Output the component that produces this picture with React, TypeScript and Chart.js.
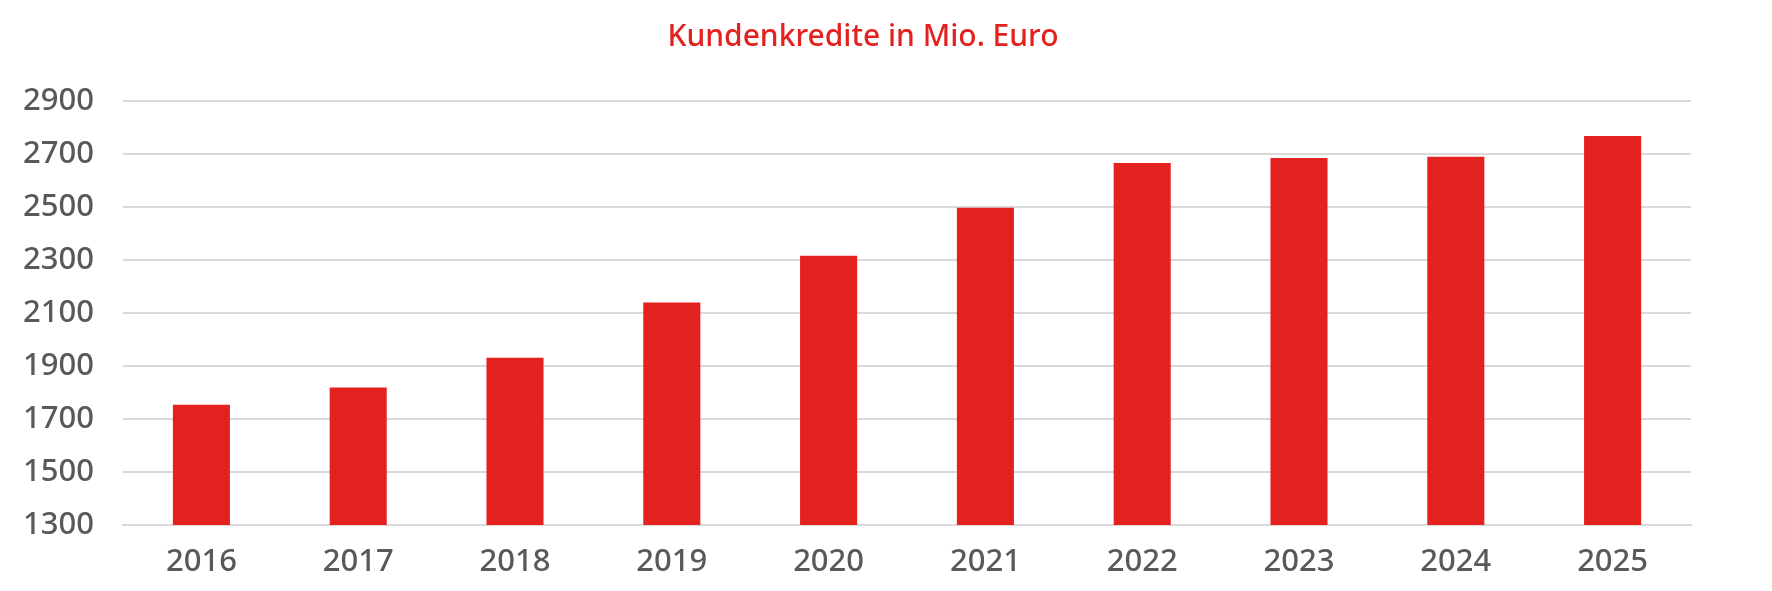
import { useEffect, useRef } from "react";
import { Chart, registerables } from "chart.js";

Chart.register(...registerables);

const years = ["2016", "2017", "2018", "2019", "2020", "2021", "2022", "2023", "2024", "2025"];
const credits = [1754, 1819, 1931, 2140, 2316, 2497, 2666, 2685, 2690, 2768];
const yMin = 1300;
const yMax = 2900;
const yStep = 200;
const chartTitle = "Kundenkredite in Mio. Euro";

const RED = "#e3221f";
const GREY_TEXT = "#595959";
const GRID = "#d9d9d9";
const FONT = "'Noto Sans', 'Open Sans', sans-serif";

const titlePlugin = {
  id: "sideTitle",
  afterDraw(chart: Chart) {
    const { ctx } = chart;
    ctx.save();
    ctx.font = `500 30px ${FONT}`;
    ctx.fillStyle = RED;
    ctx.textAlign = "center";
    ctx.textBaseline = "middle";
    ctx.fillText(chartTitle, 863, 37);
    ctx.restore();
  },
};

const App = () => {
  const canvasRef = useRef<HTMLCanvasElement>(null);

  useEffect(() => {
    if (!canvasRef.current) return;
    const chart = new Chart(canvasRef.current, {
      type: "bar",
      data: {
        labels: years,
        datasets: [
          {
            data: credits,
            backgroundColor: RED,
            borderWidth: 0,
            barPercentage: 0.364,
            categoryPercentage: 1,
          },
        ],
      },
      options: {
        animation: false,
        responsive: true,
        maintainAspectRatio: false,
        layout: { padding: { top: 101, right: 81, left: 0, bottom: 0 } },
        plugins: {
          legend: { display: false },
          title: { display: false },
          tooltip: { enabled: false },
        },
        scales: {
          x: {
            grid: { display: false, drawTicks: false },
            border: { display: true, color: GRID, width: 2 },
            ticks: { color: GREY_TEXT, font: { family: FONT, size: 31, weight: 500 }, padding: 19 },
            afterFit(scale) {
              scale.height = 66;
            },
          },
          y: {
            min: yMin,
            max: yMax,
            grid: { color: GRID, lineWidth: 2, drawTicks: false },
            border: { display: false },
            ticks: {
              stepSize: yStep,
              color: GREY_TEXT,
              font: { family: FONT, size: 31, weight: 500 },
              padding: 29,
              callback: (value) => String(value),
            },
            afterFit(scale) {
              scale.width = 123;
            },
          },
        },
      },
      plugins: [titlePlugin],
    });
    return () => chart.destroy();
  }, []);

  return (
    <div style={{ position: "fixed", left: 0, top: 0, width: 1772, height: 591, background: "#fff" }}>
      <canvas ref={canvasRef}></canvas>
    </div>
  );
};

export default App;
